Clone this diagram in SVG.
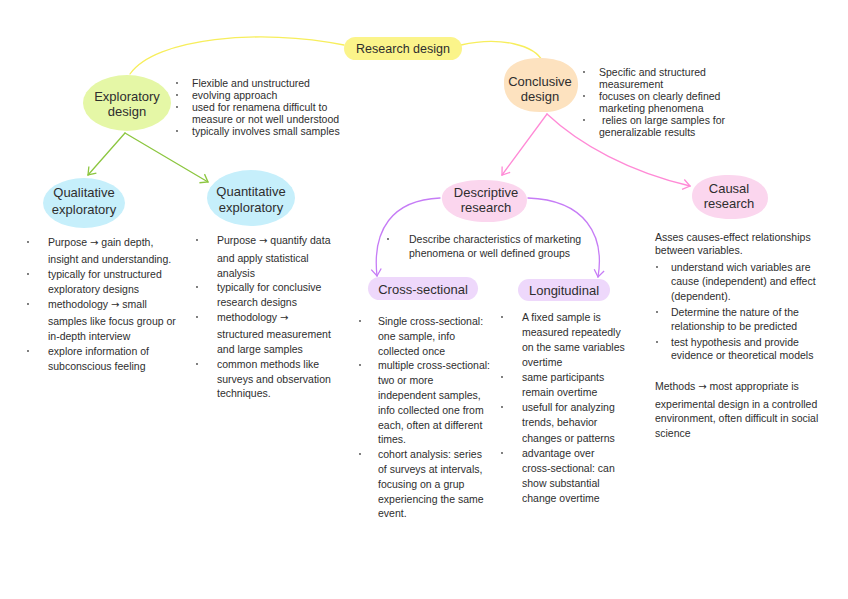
<svg xmlns="http://www.w3.org/2000/svg" width="848" height="599" viewBox="0 0 848 599">
<defs>
<style>
text{font-family:"Liberation Sans",Arial,sans-serif;fill:#2e2e2e}
.lbl{font-size:13px;text-anchor:middle}
.t{font-size:10.5px}
.ar{font-family:"DejaVu Sans",sans-serif;font-size:10px}
.dot{fill:#444}
.c{fill:none;stroke-width:1.3;stroke-linecap:round}
</style>
<marker id="ag" viewBox="-8 -6 10 12" markerWidth="10" markerHeight="12" refX="0" refY="0" orient="auto" markerUnits="userSpaceOnUse"><path d="M-7,-5 L0,0 L-7,5" fill="none" stroke="#8cc63f" stroke-width="1.3"/></marker>
<marker id="ap" viewBox="-8 -6 10 12" markerWidth="10" markerHeight="12" refX="0" refY="0" orient="auto" markerUnits="userSpaceOnUse"><path d="M-7,-5 L0,0 L-7,5" fill="none" stroke="#ff8ad6" stroke-width="1.3"/></marker>
<marker id="av" viewBox="-8 -6 10 12" markerWidth="10" markerHeight="12" refX="0" refY="0" orient="auto" markerUnits="userSpaceOnUse"><path d="M-7,-5 L0,0 L-7,5" fill="none" stroke="#c67cf6" stroke-width="1.3"/></marker>
</defs>
<rect width="848" height="599" fill="#ffffff"/>

<g id="connectors">
<path class="c" stroke="#f7ee5c" d="M130,74 C155,38 260,28 344,45"/>
<path class="c" stroke="#f7ee5c" d="M461,45 C500,36 535,45 543,62"/>
<path class="c" stroke="#8cc63f" d="M125,133 L88,175" marker-end="url(#ag)"/>
<path class="c" stroke="#8cc63f" d="M125,133 L208,182" marker-end="url(#ag)"/>
<path class="c" stroke="#ff8ad6" d="M547,114 L502,175" marker-end="url(#ap)"/>
<path class="c" stroke="#ff8ad6" d="M547,114 C580,145 630,172 690,186" marker-end="url(#ap)"/>
<path class="c" stroke="#c67cf6" d="M440,198 C392,200 372,230 377,276" marker-end="url(#av)"/>
<path class="c" stroke="#c67cf6" d="M528,198 C585,200 605,235 598,277" marker-end="url(#av)"/>
</g>

<g id="research-design">
<rect x="344" y="37" width="118" height="23" rx="11.5" fill="#fbf48a"/>
<text class="lbl" x="403" y="53" style="font-size:12.5px">Research design</text>
</g>

<g id="exploratory-design">
<ellipse cx="127" cy="103" rx="44" ry="28" fill="#e5f7a6"/>
<text class="lbl" x="127" y="101">Exploratory</text>
<text class="lbl" x="127" y="116">design</text>
</g>
<g id="exploratory-notes">
<circle class="dot" cx="177" cy="83" r="0.9"/><circle class="dot" cx="177" cy="95" r="0.9"/><circle class="dot" cx="177" cy="107" r="0.9"/><circle class="dot" cx="177" cy="131" r="0.9"/>
<text class="t" x="192" y="87">Flexible and unstructured</text>
<text class="t" x="192" y="99">evolving approach</text>
<text class="t" x="192" y="111">used for renamena difficult to</text>
<text class="t" x="192" y="123">measure or not well understood</text>
<text class="t" x="192" y="135">typically involves small samples</text>
</g>

<g id="conclusive-design">
<path d="M504,82 C504,63 524,57 542,58 C565,59 579,68 578,86 C577,104 561,113 540,112 C518,112 503,101 504,82 Z" fill="#fde2bf"/>
<text class="lbl" x="540" y="86">Conclusive</text>
<text class="lbl" x="540" y="101">design</text>
</g>
<g id="conclusive-notes">
<circle class="dot" cx="584" cy="72" r="0.9"/><circle class="dot" cx="584" cy="96" r="0.9"/><circle class="dot" cx="584" cy="120" r="0.9"/>
<text class="t" x="599" y="76">Specific and structured</text>
<text class="t" x="599" y="88">measurement</text>
<text class="t" x="599" y="100">focuses on clearly defined</text>
<text class="t" x="599" y="112">marketing phenomena</text>
<text class="t" x="599" y="124" xml:space="preserve"> relies on large samples for</text>
<text class="t" x="599" y="136">generalizable results</text>
</g>

<g id="qualitative-exploratory">
<ellipse cx="84" cy="203" rx="41" ry="25" fill="#c6effb"/>
<text class="lbl" x="84" y="197">Qualitative</text>
<text class="lbl" x="84" y="214">exploratory</text>
</g>
<g id="qualitative-notes">
<circle class="dot" cx="28" cy="242" r="0.9"/><circle class="dot" cx="28" cy="274" r="0.9"/><circle class="dot" cx="28" cy="304" r="0.9"/><circle class="dot" cx="28" cy="351" r="0.9"/>
<text class="t" x="48" y="246">Purpose <tspan class="ar">→</tspan> gain depth,</text>
<text class="t" x="48" y="263">insight and understanding.</text>
<text class="t" x="48" y="278">typically for unstructured</text>
<text class="t" x="48" y="293">exploratory designs</text>
<text class="t" x="48" y="308">methodology <tspan class="ar">→</tspan> small</text>
<text class="t" x="48" y="325">samples like focus group or</text>
<text class="t" x="48" y="340">in-depth interview</text>
<text class="t" x="48" y="355">explore information of</text>
<text class="t" x="48" y="370">subconscious feeling</text>
</g>

<g id="quantitative-exploratory">
<ellipse cx="251" cy="198" rx="44" ry="28" fill="#c6effb"/>
<text class="lbl" x="251" y="196">Quantitative</text>
<text class="lbl" x="251" y="212">exploratory</text>
</g>
<g id="quantitative-notes">
<circle class="dot" cx="197" cy="240" r="0.9"/><circle class="dot" cx="197" cy="287" r="0.9"/><circle class="dot" cx="197" cy="317" r="0.9"/><circle class="dot" cx="197" cy="364" r="0.9"/>
<text class="t" x="217" y="244">Purpose <tspan class="ar">→</tspan> quantify data</text>
<text class="t" x="217" y="262">and apply statistical</text>
<text class="t" x="217" y="277">analysis</text>
<text class="t" x="217" y="291">typically for conclusive</text>
<text class="t" x="217" y="306">research designs</text>
<text class="t" x="217" y="321">methodology <tspan class="ar">→</tspan></text>
<text class="t" x="217" y="338">structured measurement</text>
<text class="t" x="217" y="353">and large samples</text>
<text class="t" x="217" y="368">common methods like</text>
<text class="t" x="217" y="383">surveys and observation</text>
<text class="t" x="217" y="397">techniques.</text>
</g>

<g id="descriptive-research">
<path d="M442,200 C440,186 460,180 483,180 C506,180 527,186 527,200 C527,214 510,222 487,222 C462,222 444,214 442,200 Z" fill="#fbd6ee"/>
<text class="lbl" x="486" y="197">Descriptive</text>
<text class="lbl" x="486" y="212">research</text>
</g>
<g id="descriptive-notes">
<circle class="dot" cx="388" cy="239" r="0.9"/>
<text class="t" x="409" y="243">Describe characteristics of marketing</text>
<text class="t" x="409" y="257">phenomena or well defined groups</text>
</g>

<g id="causal-research">
<path d="M692,196 C692,182 708,175 729,175 C751,175 768,184 768,198 C768,212 752,219 730,219 C708,219 692,210 692,196 Z" fill="#fbd6ee"/>
<text class="lbl" x="729" y="193">Causal</text>
<text class="lbl" x="729" y="208">research</text>
</g>
<g id="causal-notes">
<circle class="dot" cx="657" cy="267" r="0.9"/><circle class="dot" cx="657" cy="312" r="0.9"/><circle class="dot" cx="657" cy="342" r="0.9"/>
<text class="t" x="655" y="241">Asses causes-effect relationships</text>
<text class="t" x="655" y="254">between variables.</text>
<text class="t" x="671" y="271">understand wich variables are</text>
<text class="t" x="671" y="285">cause (independent) and effect</text>
<text class="t" x="671" y="300">(dependent).</text>
<text class="t" x="671" y="316">Determine the nature of the</text>
<text class="t" x="671" y="330">relationship to be predicted</text>
<text class="t" x="671" y="346">test hypothesis and provide</text>
<text class="t" x="671" y="359">evidence or theoretical models</text>
<text class="t" x="655" y="390">Methods <tspan class="ar">→</tspan> most appropriate is</text>
<text class="t" x="655" y="408">experimental design in a controlled</text>
<text class="t" x="655" y="422">environment, often difficult in social</text>
<text class="t" x="655" y="437">science</text>
</g>

<g id="cross-sectional">
<rect x="368" y="277" width="110" height="23" rx="11.5" fill="#eed8fb"/>
<text class="lbl" x="423" y="294">Cross-sectional</text>
</g>
<g id="cross-sectional-notes">
<circle class="dot" cx="360" cy="321" r="0.9"/><circle class="dot" cx="360" cy="365" r="0.9"/><circle class="dot" cx="360" cy="454" r="0.9"/>
<text class="t" x="378" y="325">Single cross-sectional:</text>
<text class="t" x="378" y="340">one sample, info</text>
<text class="t" x="378" y="355">collected once</text>
<text class="t" x="378" y="369">multiple cross-sectional:</text>
<text class="t" x="378" y="384">two or more</text>
<text class="t" x="378" y="399">independent samples,</text>
<text class="t" x="378" y="414">info collected one from</text>
<text class="t" x="378" y="429">each, often at different</text>
<text class="t" x="378" y="443">times.</text>
<text class="t" x="378" y="458">cohort analysis: series</text>
<text class="t" x="378" y="473">of surveys at intervals,</text>
<text class="t" x="378" y="488">focusing on a grup</text>
<text class="t" x="378" y="503">experiencing the same</text>
<text class="t" x="378" y="517">event.</text>
</g>

<g id="longitudinal">
<rect x="518" y="279" width="92" height="22" rx="11" fill="#eed8fb"/>
<text class="lbl" x="564" y="295">Longitudinal</text>
</g>
<g id="longitudinal-notes">
<circle class="dot" cx="502" cy="317" r="0.9"/><circle class="dot" cx="502" cy="377" r="0.9"/><circle class="dot" cx="502" cy="407" r="0.9"/><circle class="dot" cx="502" cy="453" r="0.9"/>
<text class="t" x="522" y="321">A fixed sample is</text>
<text class="t" x="522" y="336">measured repeatedly</text>
<text class="t" x="522" y="351">on the same variables</text>
<text class="t" x="522" y="366">overtime</text>
<text class="t" x="522" y="381">same participants</text>
<text class="t" x="522" y="396">remain overtime</text>
<text class="t" x="522" y="411">usefull for analyzing</text>
<text class="t" x="522" y="426">trends, behavior</text>
<text class="t" x="522" y="442">changes or patterns</text>
<text class="t" x="522" y="457">advantage over</text>
<text class="t" x="522" y="472">cross-sectional: can</text>
<text class="t" x="522" y="487">show substantial</text>
<text class="t" x="522" y="502">change overtime</text>
</g>
</svg>
